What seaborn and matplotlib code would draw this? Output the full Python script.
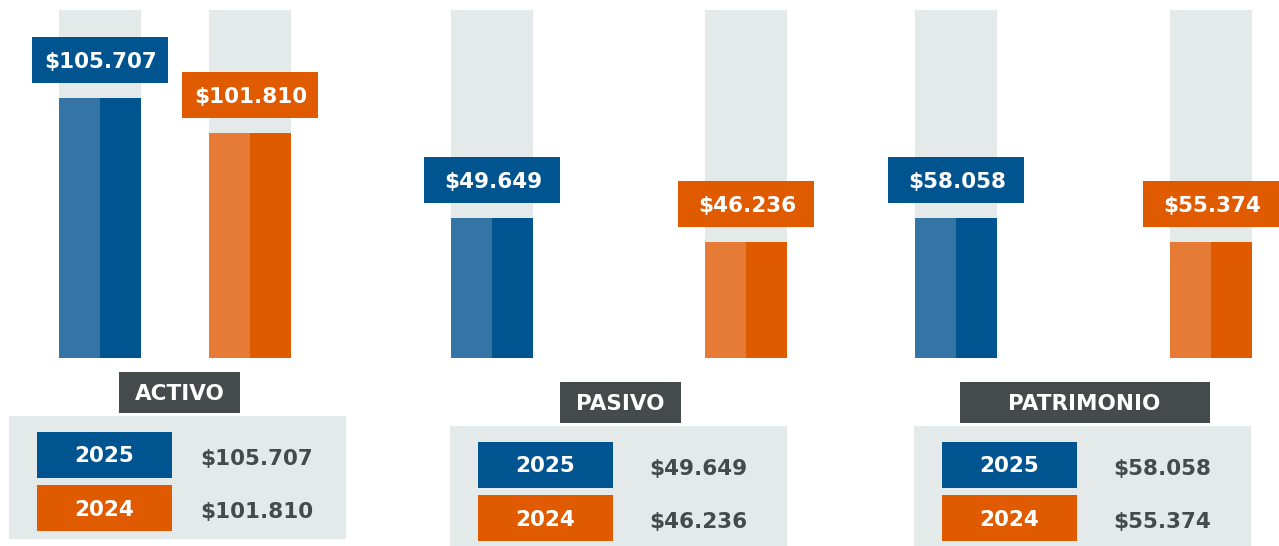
import matplotlib.pyplot as plt
import pandas as pd
import seaborn as sns
from matplotlib.patches import Rectangle

# Data
panels = ['ACTIVO', 'PASIVO', 'PATRIMONIO']
years = ['2025', '2024']
values_2025 = [105707, 49649, 58058]
values_2024 = [101810, 46236, 55374]

# Colors
dark = {'2025': '#00548F', '2024': '#E05A00'}
light = {'2025': '#3575A6', '2024': '#E67B35'}
track = '#E4E9E9'
slate = '#454B4C'

# Layout (pixels, y measured from top)
W, H = 1279, 546
bar_left = [59, 451, 915]
bar_step = [150, 254, 255]
bar_w = 82
ax_top, ax_bottom = 10, 358
ylims = [(76757, 115507), (29751, 79211), (42410, 81306)]
table_left = [9, 450, 914]
table_top = [416, 426, 426]
table_h = [123, 130, 130]
title_w = [121, 121, 250]

sns.set_theme(style='white')
plt.rcParams['font.family'] = ['DejaVu Sans']

fig = plt.figure(figsize=(W / 100, H / 100), dpi=100)


def money(v):
    return '$' + f'{v:,}'.replace(',', '.')


def rect(x, y, w, h, color):
    fig.add_artist(Rectangle((x / W, 1 - (y + h) / H), w / W, h / H,
                             transform=fig.transFigure, facecolor=color, lw=0))


def label(x, y, s, color='white', size=15.5):
    fig.text(x / W, 1 - y / H, s, ha='center', va='center_baseline', color=color,
             fontsize=size, fontweight='bold')


for k, name in enumerate(panels):
    vals = [values_2025[k], values_2024[k]]
    step = bar_step[k]
    wcat = bar_w / step
    ax = fig.add_axes([bar_left[k] / W, 1 - ax_bottom / H,
                       (step + bar_w) / W, (ax_bottom - ax_top) / H])
    lo, hi = ylims[k]

    # background tracks
    ax.bar([0, 1], hi - lo, bottom=lo, width=wcat, color=track, lw=0, zorder=0)
    n_track = len(ax.patches)

    df = pd.DataFrame({
        'year': [y for y in years for _ in range(2)],
        'half': ['light', 'dark'] * 2,
        'value': [v for v in vals for _ in range(2)],
    })
    sns.barplot(data=df, x='year', y='value', hue='half', order=years,
                hue_order=['light', 'dark'], width=wcat, gap=0, dodge=True,
                palette=['#888888', '#444444'], saturation=1, errorbar=None,
                legend=False, linewidth=0, ax=ax)
    for p in ax.patches[n_track:]:
        c = p.get_x() + p.get_width() / 2
        i = int(round(c))
        p.set_facecolor(light[years[i]] if c < i else dark[years[i]])
        p.set_zorder(1)

    ax.set_xlim(-wcat / 2, 1 + wcat / 2)
    ax.set_ylim(lo, hi)
    ax.axis('off')

    # value tags above bars
    for i, yr in enumerate(years):
        px, py = ax.transData.transform((i, vals[i]))
        top_img = H - py
        rect(px - 68, top_img - 15 - 46, 136, 46, dark[yr])
        label(px + 1, top_img - 15 - 23, money(vals[i]))

    # summary table
    tl, tt = table_left[k], table_top[k]
    rect(tl, tt, 337, table_h[k], track)
    tcx = tl + 337 / 2 + 2
    rect(tcx - title_w[k] / 2, tt - 44, title_w[k], 41, slate)
    label(tcx, tt - 44 + 20.5, name)
    for r, yr in enumerate(years):
        ry = tt + 15.5 + r * 53.5
        rect(tl + 27.5, ry, 135, 46, dark[yr])
        label(tl + 27.5 + 67.5, ry + 23, yr)
        label(tl + 248, ry + 25, money(vals[r]), color=slate)

fig.savefig('out.png', dpi=100)
